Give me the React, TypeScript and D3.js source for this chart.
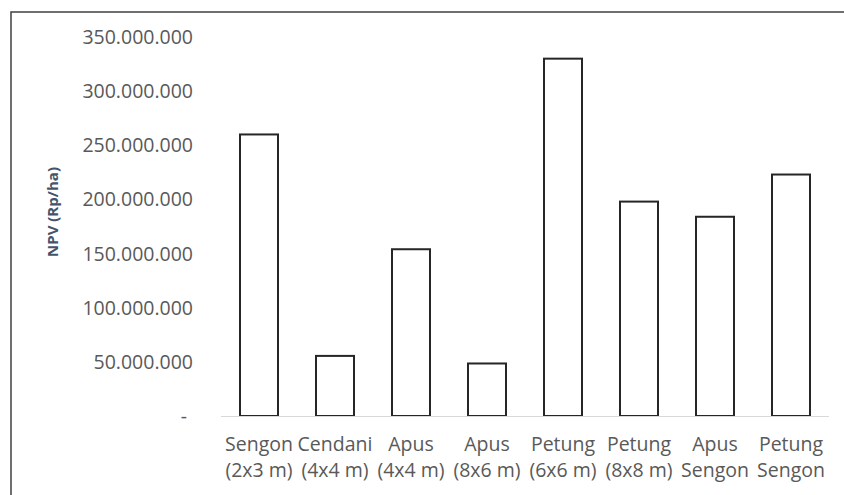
import React, { useEffect, useRef } from 'react';
import * as d3 from 'd3';

// data
const categories = ['sengon23', 'cendani44', 'apus44', 'apus86', 'petung66', 'petung88', 'apusSengon', 'petungSengon'];
const labelLine1 = ['Sengon', 'Cendani', 'Apus', 'Apus', 'Petung', 'Petung', 'Apus', 'Petung'];
const labelLine2 = ['(2x3 m)', '(4x4 m)', '(4x4 m)', '(8x6 m)', '(6x6 m)', '(8x8 m)', 'Sengon', 'Sengon'];
const npvValues = [260000000, 55500000, 154000000, 48500000, 330000000, 198000000, 184000000, 223000000];
const yTicks = [0, 50000000, 100000000, 150000000, 200000000, 250000000, 300000000, 350000000];

const W = 844;
const H = 495;
const FONT = "'Open Sans', sans-serif";

const idLocale = d3.formatLocale({ decimal: ',', thousands: '.', grouping: [3], currency: ['', ''] });
const fmt = idLocale.format(',');

const App = () => {
  const ref = useRef<SVGSVGElement | null>(null);

  useEffect(() => {
    const svg = d3.select(ref.current);
    svg.selectAll('*').remove();

    const x = d3.scaleBand().domain(categories).range([221, 829]).paddingInner(0.5).paddingOuter(0.25);
    const y = d3.scaleLinear().domain([0, 350000000]).range([416, 37]);

    svg.append('rect').attr('width', W).attr('height', H).attr('fill', '#ffffff');

    // chart frame (right/bottom edges fall outside the picture)
    svg.append('rect')
      .attr('x', 11).attr('y', 12)
      .attr('width', W + 20).attr('height', H + 20)
      .attr('fill', 'none')
      .attr('stroke', '#404040')
      .attr('stroke-width', 1.5);

    // y tick labels
    svg.append('g')
      .selectAll('text')
      .data(yTicks)
      .enter()
      .append('text')
      .attr('x', (d) => (d === 0 ? 187 : 193))
      .attr('y', (d) => y(d) + 7)
      .attr('text-anchor', 'end')
      .attr('font-family', FONT)
      .attr('font-size', 19.5)
      .attr('fill', '#595959')
      .text((d) => (d === 0 ? '-' : fmt(d)));

    // bars
    svg.append('g')
      .selectAll('rect')
      .data(npvValues)
      .enter()
      .append('rect')
      .attr('x', (d, i) => x(categories[i])!)
      .attr('y', (d) => y(d))
      .attr('width', x.bandwidth())
      .attr('height', (d) => y(0) - y(d))
      .attr('fill', '#ffffff')
      .attr('stroke', '#262626')
      .attr('stroke-width', 2);

    // x axis line
    svg.append('line')
      .attr('x1', 221).attr('x2', 829)
      .attr('y1', y(0) + 0.5).attr('y2', y(0) + 0.5)
      .attr('stroke', '#d9d9d9')
      .attr('stroke-width', 1);

    // category labels, two lines
    const lab = svg.append('g')
      .selectAll('text')
      .data(categories)
      .enter()
      .append('text')
      .attr('text-anchor', 'middle')
      .attr('font-family', FONT)
      .attr('font-size', 19.5)
      .attr('fill', '#595959');
    lab.append('tspan')
      .attr('x', (d) => x(d)! + x.bandwidth() / 2)
      .attr('y', 451)
      .text((d, i) => labelLine1[i]);
    lab.append('tspan')
      .attr('x', (d) => x(d)! + x.bandwidth() / 2)
      .attr('y', 477)
      .text((d, i) => labelLine2[i]);

    // y axis title
    svg.append('text')
      .attr('transform', 'translate(58,212) rotate(-90)')
      .attr('text-anchor', 'middle')
      .attr('font-family', FONT)
      .attr('font-size', 15)
      .attr('font-weight', 'bold')
      .attr('fill', '#44546a')
      .text('NPV (Rp/ha)');
  }, []);

  return (
    <svg
      ref={ref}
      width={W}
      height={H}
      style={{ position: 'absolute', left: 0, top: 0, display: 'block' }}
    />
  );
};

export default App;
